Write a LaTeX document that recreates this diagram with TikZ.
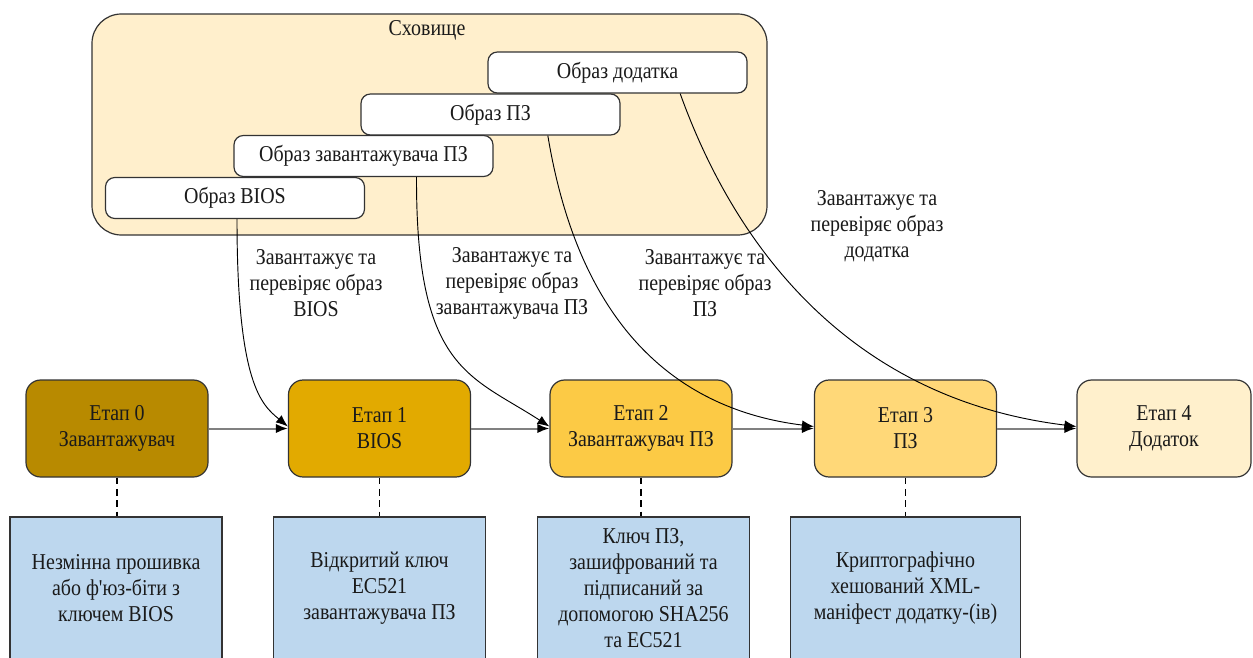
\documentclass[tikz,border=0pt]{standalone}
\usepackage{fontspec}
\setmainfont{Liberation Serif}
\newfontfamily\diagfont{Liberation Serif}[FakeStretch=0.88]
\usetikzlibrary{arrows.meta}

\definecolor{storefill}{HTML}{FFEFCC}
\definecolor{stageA}{HTML}{B88A00}
\definecolor{stageB}{HTML}{E2AA00}
\definecolor{stageC}{HTML}{FCCA45}
\definecolor{stageD}{HTML}{FFD878}
\definecolor{stageE}{HTML}{FFF0CC}
\definecolor{notefill}{HTML}{BDD7EE}
\definecolor{edgegray}{HTML}{333333}
\definecolor{flowgray}{HTML}{808080}
\definecolor{inkgray}{HTML}{1A1A1A}

\tikzset{
  txt/.style={font=\diagfont\fontsize{17}{19.5}\selectfont, text=inkgray, align=center, inner sep=0pt},
  storebox/.style={draw=edgegray, line width=0.9pt, fill=storefill, rounded corners=22pt,
    minimum width=506.25pt, minimum height=165.75pt},
  imgbox/.style={txt, draw=edgegray, line width=0.9pt, fill=white, rounded corners=7pt,
    minimum width=194.25pt, minimum height=30.75pt},
  stagebox/.style={txt, draw=edgegray, line width=0.9pt, rounded corners=11pt,
    minimum width=136.5pt, minimum height=72.75pt},
  notebox/.style={txt, draw=edgegray, line width=0.9pt, fill=notefill,
    minimum width=159pt, minimum height=107.25pt},
  flow/.style={draw=flowgray, line width=1.5pt, -{Latex[length=9pt,width=7pt,color=black]}},
  load/.style={draw=black, line width=0.7pt, -{Latex[length=9pt,width=7pt]}},
  link/.style={draw=black, line width=0.9pt, dash pattern=on 5pt off 3.5pt},
}

\begin{document}
\begin{tikzpicture}[x=0.75pt, y=-0.75pt]
\useasboundingbox (0,0) rectangle (1253,657);

% storage with the stored images
\node[storebox] (store) at (429.5,124.5) {};
\node[txt] (storetitle) at (427,30) {Сховище};
\node[imgbox] (app) at (617.5,72.5) {Образ додатка};
\node[imgbox] (os) at (490.5,114.5) {Образ ПЗ};
\node[imgbox] (ldr) at (363.5,156) {Образ завантажувача ПЗ};
\node[imgbox] (bios) at (235,198) {Образ BIOS};

% boot stages
\node[stagebox, fill=stageA] (s0) at (117,428.5) {Етап 0\\Завантажувач};
\node[stagebox, fill=stageB] (s1) at (379.5,428.5) {Етап 1\\BIOS};
\node[stagebox, fill=stageC] (s2) at (641,428.5) {Етап 2\\Завантажувач ПЗ};
\node[stagebox, fill=stageD] (s3) at (905.5,428.5) {Етап 3\\ПЗ};
\node[stagebox, fill=stageE, minimum width=130.5pt] (s4) at (1164,428.5) {Етап 4\\Додаток};

% trust anchors of each stage
\node[notebox] (n0) at (116,588.5) {Незмінна прошивка\\або ф'юз-біти з\\ключем BIOS};
\node[notebox] (n1) at (379.5,588.5) {Відкритий ключ\\EC521\\завантажувача ПЗ};
\node[notebox] (n2) at (643.5,588.5) {Ключ ПЗ,\\зашифрований та\\підписаний за\\допомогою SHA256\\та EC521};
\node[notebox, minimum width=172.5pt] (n3) at (905.5,588.5) {Криптографічно\\хешований XML-\\маніфест додатку-(ів)};

\foreach \s/\n in {s0/n0, s1/n1, s2/n2, s3/n3}
  \draw[link] (\s.south) -- (\s.south |- \n.north);

% stage sequence
\draw[flow] (s0.east) -- (s1.west);
\draw[flow] (s1.east) -- (s2.west);
\draw[flow] (s2.east) -- (s3.west);
\draw[flow] (s3.east) -- (s4.west);

% loading and verification of each image
\coordinate (biosout) at ([xshift=1.5pt]bios.south);
\coordinate (ldrout) at ([xshift=39.75pt]ldr.south);
\coordinate (osout) at ([xshift=43pt]os.south);
\coordinate (appout) at ([xshift=47pt]app.south);

\draw[load] (biosout) .. controls (237,385) and (262,405) .. ([yshift=1.5pt]s1.west);
\draw[load] (ldrout) .. controls (416,370) and (470,375) .. ([yshift=1.5pt]s2.west);
\draw[load] (osout) .. controls (580,330) and (680,410) .. ([yshift=1.5pt]s3.west);
\draw[load] (appout) .. controls (740,260) and (860,400) .. ([yshift=1.5pt]s4.west);

\node[txt] (lbios) at (316,283) {Завантажує та\\перевіряє образ\\BIOS};
\node[txt] (lldr) at (512,283) {Завантажує та\\перевіряє образ\\завантажувача ПЗ};
\node[txt] (los) at (705,283) {Завантажує та\\перевіряє образ\\ПЗ};
\node[txt] (lapp) at (877,226) {Завантажує та\\перевіряє образ\\додатка};
\end{tikzpicture}
\end{document}
